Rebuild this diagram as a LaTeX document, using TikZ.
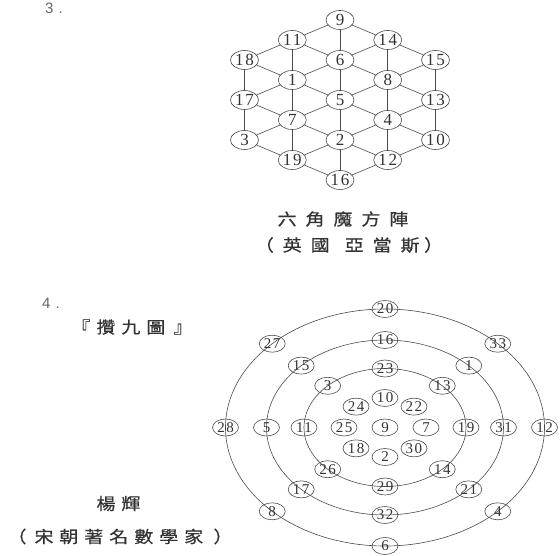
\documentclass[tikz,border=0pt]{standalone}
\usepackage{fontspec}
\usepackage{graphicx}
\setmainfont{Liberation Serif}
\newfontfamily\cjk[FakeBold=0.6]{Noto Sans CJK TC}
\newfontfamily\numf[LetterSpace=10]{Liberation Serif}
\newfontfamily\labf{Liberation Sans}
\usetikzlibrary{shapes.geometric}
\definecolor{lc}{HTML}{4A4A4A}
\definecolor{tc}{HTML}{333333}
\newcommand\cjs[1]{\scalebox{1.15}[1]{#1}}
\newcommand\gA{\hspace{7.8pt}}
\newcommand\gB{\hspace{5.2pt}}
\tikzset{
  ln/.style={draw=lc, line width=0.6pt},
  hx/.style={ellipse, draw=lc, line width=0.6pt, minimum width=28pt, minimum height=19pt,
             inner sep=0pt, text=tc, font=\numf\fontsize{17}{17}\selectfont},
  rn/.style={ellipse, draw=lc, line width=0.6pt, minimum width=26pt, minimum height=17pt,
             inner sep=0pt, text=tc, font=\numf\fontsize{15}{15}\selectfont},
  cj/.style={text=tc, inner sep=0pt, font=\cjk\fontsize{16.5}{16.5}\selectfont},
  lb/.style={text=tc!75, inner sep=0pt, anchor=base west, font=\labf\fontsize{15}{15}\selectfont},
}
\begin{document}
\begin{tikzpicture}[x=1pt,y=-1pt]
\useasboundingbox (0,0) rectangle (560,556);
% ---------- 3. hexagon ----------
\node[lb] (t3) at (45,13.5) {3\hspace{5pt}.};
\foreach \lab/\px/\py in {9/340/20, 6/340/60, 5/340/100, 2/340/140, 16/340/180,
  11/292.25/40, 1/292.25/80, 7/292.25/120, 19/292.25/160,
  14/387.75/40, 8/387.75/80, 4/387.75/120, 12/387.75/160,
  18/244.5/60, 17/244.5/100, 3/244.5/140,
  15/435.5/60, 13/435.5/100, 10/435.5/140}
  \node[hx] (h\lab) at (\px,\py) {\lab};
\foreach \a/\b in {9/11, 9/14, 9/6, 11/18, 11/6, 11/1, 14/6, 14/15, 14/8,
  18/1, 18/17, 6/1, 6/8, 6/5, 15/8, 15/13, 1/17, 1/5, 1/7, 8/5, 8/13, 8/4,
  17/7, 17/3, 5/7, 5/4, 5/2, 13/4, 13/10, 7/3, 7/19, 7/2, 4/2, 4/10, 4/12,
  3/19, 2/19, 2/12, 2/16, 10/12, 19/16, 12/16}
  \draw[ln] (h\a) -- (h\b);
\node[cj] (hexttl) at (343,219) {\cjs{六\gA 角\gA 魔\gA 方\gA 陣}};
\node[cj] (hexauth) at (349,245) {\cjs{（\gA 英\gA 國\hspace{13pt}亞\gA 當\gA 斯\hspace{4pt}）}};
% ---------- 4. rings ----------
\node[lb] (t4) at (42,308.5) {4\hspace{5pt}.};
\node[cj] (ringttl) at (132,327) {\cjs{『\gB 攢\gB 九\gB 圖\hspace{7pt}』}};
\node[cj] (yang) at (118.5,503.5) {\cjs{楊\gB 輝}};
\node[cj] (yangdesc) at (120,536.5) {\cjs{（\hspace{7pt}宋\gB 朝\gB 著\gB 名\gB 數\gB 學\gB 家\hspace{9pt}）}};
\coordinate (rc) at (385,427.5);
\draw[ln] (rc) ellipse [x radius=81pt, y radius=59pt];
\draw[ln] (rc) ellipse [x radius=118.5pt, y radius=87.5pt];
\draw[ln] (rc) ellipse [x radius=159.5pt, y radius=118.5pt];
\node[rn] (r9) at (rc) {9};
\foreach \ang/\lab in {90/10, 45/22, 0/7, -45/30, -90/2, -135/18, 180/25, 135/24}
  \node[rn] (r\lab) at ({385+41*cos(\ang)},{427.5-29.5*sin(\ang)}) {\lab};
\foreach \ang/\lab in {90/23, 45/13, 0/19, -45/14, -90/29, -135/26, 180/11, 135/3}
  \node[rn] (r\lab) at ({385+81*cos(\ang)},{427.5-59*sin(\ang)}) {\lab};
\foreach \ang/\lab in {90/16, 45/1, 0/31, -45/21, -90/32, -135/17, 180/5, 135/15}
  \node[rn] (r\lab) at ({385+118.5*cos(\ang)},{427.5-87.5*sin(\ang)}) {\lab};
\foreach \ang/\lab in {90/20, 45/33, 0/12, -45/4, -90/6, -135/8, 180/28, 135/27}
  \node[rn] (r\lab) at ({385+159.5*cos(\ang)},{427.5-118.5*sin(\ang)}) {\lab};
\end{tikzpicture}
\end{document}
